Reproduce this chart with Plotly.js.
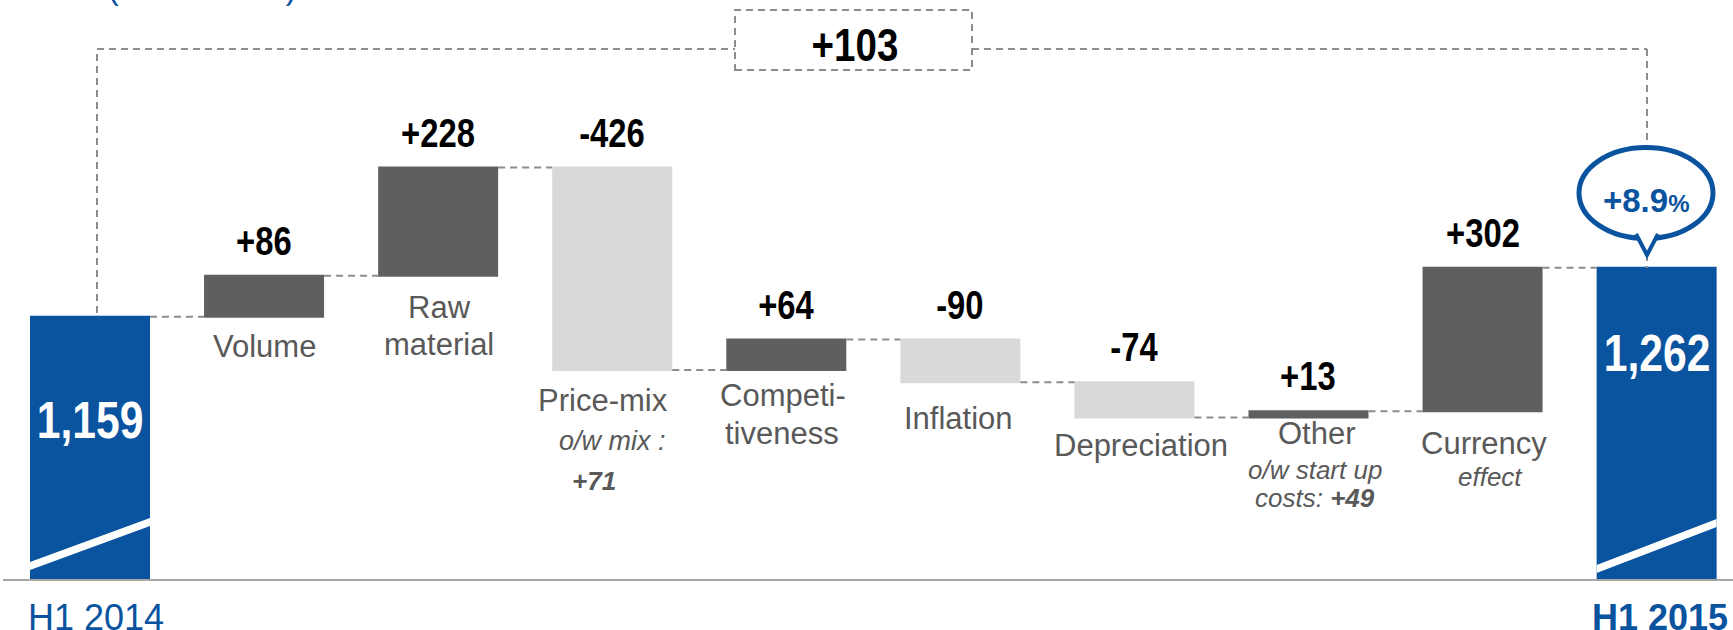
<!DOCTYPE html>
<html><head><meta charset="utf-8">
<script src="https://cdn.plot.ly/plotly-3.0.1.min.js"></script>
<style>html,body{margin:0;padding:0;background:#fff;overflow:hidden}#chart{width:1733px;height:630px}</style>
</head><body><div id="chart"></div>
<script>
// ---- data ----
const categories = ['H1 2014','Volume','Raw material','Price-mix','Competitiveness','Inflation','Depreciation','Other','Currency effect','H1 2015'];
const measures = ['absolute','relative','relative','relative','relative','relative','relative','relative','relative','total'];
const values = [1159, 86, 228, -426, 64, -90, -74, 13, 302, 1262];
const totalChange = 103;
const totalChangePct = 8.9;
const mixEffect = 71;
const startUpCosts = 49;
const unitNote = '(in € millions)';

// ---- layout constants ----
const W = 1733, H = 630, PB = 50, PH = H - PB;
const BLUE = '#0a539f', DARK = '#5f5f5f', LIGHT = '#d9d9d9', TXT = '#595959', DASHC = '#8c8c8c';
const xPerUnit = 174.07, x0px = 90;
const yMin = 604.7, pxPerUnit = 0.475;
const halfW = 0.3447;
const SANS = '"Liberation Sans", Arial, sans-serif';
const px = p => p / W;
const py = p => (PH - p) / PH;
const fmt = v => v.toLocaleString('en-US');
const sgn = v => (v > 0 ? '+' : '') + v;

const xs = categories.map((c, i) => i);
let run = 0; const starts = [], ends = [];
values.forEach((v, i) => {
  if (measures[i] === 'absolute') { starts.push(0); run = v; }
  else if (measures[i] === 'total') { starts.push(0); }
  else { starts.push(run); run += v; }
  ends.push(run);
});

const trace = {
  type: 'waterfall', x: xs, y: values, measure: measures, width: 2 * halfW,
  increasing: {marker: {color: DARK}}, decreasing: {marker: {color: LIGHT}}, totals: {marker: {color: BLUE}},
  connector: {mode: 'between', line: {color: DASHC, width: 2, dash: '7px,5px'}},
  textinfo: 'none', hoverinfo: 'skip'
};

const ann = [], narrowIdx = [];
const addNarrow = a => { narrowIdx.push(ann.length); ann.push(a); };
// delta labels
values.forEach((v, i) => {
  if (measures[i] !== 'relative') return;
  addNarrow({x: i, y: Math.max(starts[i], ends[i]), xref: 'x', yref: 'y', xanchor: 'center', yanchor: 'middle', yshift: 35,
    text: '<b>' + sgn(v) + '</b>', showarrow: false, font: {family: SANS, size: 40, color: '#000'}});
});
// total values in blue bars
addNarrow({x: 0, y: py(420), xref: 'x', yref: 'paper', xanchor: 'center', yanchor: 'middle', text: '<b>' + fmt(ends[0]) + '</b>', showarrow: false,
  font: {family: SANS, size: 52, color: '#fff'}});
addNarrow({x: 9, y: py(353), xref: 'x', yref: 'paper', xanchor: 'center', yanchor: 'middle', text: '<b>' + fmt(ends[9]) + '</b>', showarrow: false,
  font: {family: SANS, size: 52, color: '#fff'}});
// total change
addNarrow({x: px(855), y: py(45), xref: 'paper', yref: 'paper', xanchor: 'center', yanchor: 'middle', text: '<b>' + sgn(totalChange) + '</b>', showarrow: false,
  font: {family: SANS, size: 47, color: '#000'}});
// category labels
const lab = (cx, cy, text, size, color) => ann.push({x: px(cx), y: py(cy), xref: 'paper', yref: 'paper', xanchor: 'center', yanchor: 'middle',
  text: text, showarrow: false, font: {family: SANS, size: size, color: color || TXT}});
lab(264, 347, categories[1], 31);
lab(439, 307, 'Raw', 31); lab(439, 344, 'material', 31);
lab(603, 400, categories[3], 31);
lab(612, 441, '<i>o/w mix :</i>', 27);
lab(594, 481, '<i><b>+' + mixEffect + '</b></i>', 26);
lab(783, 395, 'Competi-', 31); lab(782, 433, 'tiveness', 31);
lab(958, 418, categories[5], 31);
lab(1141, 445, categories[6], 31);
lab(1317, 433, categories[7], 31);
lab(1315, 470, '<i>o/w start up</i>', 26);
lab(1315, 498, '<i>costs: <b>+' + startUpCosts + '</b></i>', 26);
lab(1484, 443, 'Currency', 31);
lab(1490, 477, '<i>effect</i>', 26);
// period labels
ann.push({x: px(26), y: py(617), xref: 'paper', yref: 'paper', xanchor: 'left', yanchor: 'middle', text: categories[0], showarrow: false,
  font: {family: SANS, size: 36, color: BLUE}});
ann.push({x: px(1730), y: py(617), xref: 'paper', yref: 'paper', xanchor: 'right', yanchor: 'middle', text: '<b>' + categories[9] + '</b>', showarrow: false,
  font: {family: SANS, size: 36, color: BLUE}});
// percentage change
ann.push({x: px(1646), y: py(200), xref: 'paper', yref: 'paper', xanchor: 'center', yanchor: 'middle',
  text: '<b>+' + totalChangePct.toFixed(1) + '<span style="font-size:24px">%</span></b>', showarrow: false,
  font: {family: SANS, size: 33, color: BLUE}});
// unit note (clipped at top, as in the original)
ann.push({x: px(202), y: py(-12), xref: 'paper', yref: 'paper', xanchor: 'center', yanchor: 'middle', text: unitNote, showarrow: false,
  font: {family: SANS, size: 32, color: BLUE}});

const dashL = {color: DASHC, width: 2, dash: '7px,5px'};
const shapes = [
  {type: 'line', xref: 'paper', yref: 'paper', x0: px(3), x1: 1, y0: 0, y1: 0, line: {color: '#a6a6a6', width: 2}},
  {type: 'line', xref: 'paper', yref: 'paper', x0: px(97), x1: px(97), y0: py(313), y1: py(49), line: dashL},
  {type: 'line', xref: 'paper', yref: 'paper', x0: px(97), x1: px(735), y0: py(49), y1: py(49), line: dashL},
  {type: 'line', xref: 'paper', yref: 'paper', x0: px(972), x1: px(1647), y0: py(49), y1: py(49), line: dashL},
  {type: 'line', xref: 'paper', yref: 'paper', x0: px(1647), x1: px(1647), y0: py(49), y1: py(146), line: dashL},
  {type: 'line', xref: 'paper', yref: 'paper', x0: px(1647), x1: px(1647), y0: py(254), y1: py(268), line: dashL},
  {type: 'rect', xref: 'paper', yref: 'paper', x0: px(735), x1: px(972), y0: py(70), y1: py(10), line: dashL, fillcolor: 'rgba(0,0,0,0)'},
  {type: 'circle', xref: 'paper', yref: 'paper', x0: px(1579), x1: px(1713), y0: py(238.5), y1: py(147.5), line: {color: BLUE, width: 5}, fillcolor: '#fff'},
  {type: 'path', xref: 'paper', yref: 'paper', path: `M ${px(1636)},${py(234)} L ${px(1647)},${py(255)} L ${px(1658)},${py(234)}`, line: {color: BLUE, width: 4}, fillcolor: '#fff'}
];
// axis-break slashes on the blue bars
[0, 9].forEach(i => {
  const l = i === 0 ? 566 : 569, r = i === 0 ? 522 : 523;
  shapes.push({type: 'path', xref: 'x', yref: 'paper', line: {width: 0}, fillcolor: '#fff',
    path: `M ${i - halfW},${py(l - 4)} L ${i + halfW},${py(r - 4)} L ${i + halfW},${py(r + 4)} L ${i - halfW},${py(l + 4)} Z`});
});

const layout = {
  width: W, height: H, margin: {l: 0, r: 0, t: 0, b: PB}, paper_bgcolor: '#fff', plot_bgcolor: '#fff',
  showlegend: false,
  xaxis: {range: [-x0px / xPerUnit, (W - x0px) / xPerUnit], visible: false, fixedrange: true},
  yaxis: {range: [yMin, yMin + PH / pxPerUnit], visible: false, fixedrange: true},
  annotations: ann, shapes: shapes
};
Plotly.newPlot('chart', [trace], layout, {staticPlot: true, displayModeBar: false}).then(gd => {
  // condensed (narrow) look for the bold figures
  gd.querySelectorAll('.annotation').forEach(g => {
    const idx = +g.getAttribute('data-index');
    if (narrowIdx.indexOf(idx) < 0) return;
    const t = g.querySelector('.annotation-text');
    if (!t) return;
    t.style.transformBox = 'fill-box';
    t.style.transformOrigin = '50% 50%';
    t.style.transform = 'scaleX(0.82)';
  });
});
</script></body></html>
